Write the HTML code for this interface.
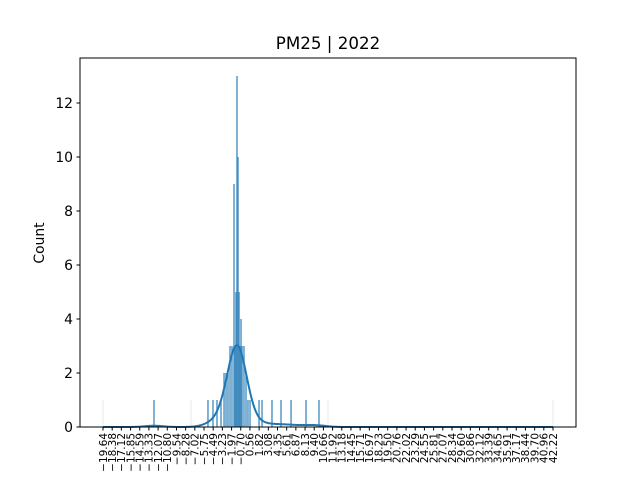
<!DOCTYPE html>
<html><head><meta charset="utf-8"><style>body{margin:0;background:#fff}svg{display:block;font-family:"DejaVu Sans","Liberation Sans",sans-serif}</style></head>
<body>
<svg id="chart" width="640" height="480"></svg>
<script>
const binCenters=[-12.63,-5.21,-4.52,-3.97,-3.42,-3.0,-2.73,-2.46,-2.18,-1.91,-1.63,-1.49,-1.36,-1.22,-1.08,-0.94,-0.81,-0.67,-0.53,-0.26,0.02,0.29,0.57,1.81,2.22,3.59,4.83,6.21,8.27,10.05];
const binCounts=[1,1,1,1,1,2,2,2,3,3,9,3,5,13,10,5,3,4,3,3,2,1,1,1,1,1,1,1,1,1];
const faintBins=[-19.64,-7.54,11.29,42.22];
const tickLabels=["−19.64","−18.38","−17.12","−15.85","−14.59","−13.33","−12.07","−10.80","−9.54","−8.28","−7.02","−5.75","−4.49","−3.23","−1.97","−0.70","0.56","1.82","3.08","4.35","5.61","6.87","8.13","9.40","10.66","11.92","13.18","14.45","15.71","16.97","18.23","19.50","20.76","22.02","23.29","24.55","25.81","27.07","28.34","29.60","30.86","32.12","33.39","34.65","35.91","37.17","38.44","39.70","40.96","42.22"];
const yTicks=[0,2,4,6,8,10,12];
const svg=document.getElementById('chart');
const NS='http://www.w3.org/2000/svg';
const L=80,R=576,T=58,B=427;
const X0=-19.64,X1=42.22,PX0=103,PX1=553;
const xs=v=>PX0+(v-X0)*(PX1-PX0)/(X1-X0);
const ys=v=>B-v*27.0;
function mk(t,a,p){const e=document.createElementNS(NS,t);for(const k in a)e.setAttribute(k,a[k]);(p||svg).appendChild(e);return e;}
faintBins.forEach(v=>{
 const r=mk('rect',{x:xs(v)-0.6,y:ys(1),width:1.2,height:ys(0)-ys(1),fill:'#ececec'});
 
 
});
binCenters.forEach((v,i)=>{
 const r=mk('rect',{x:xs(v)-0.75,y:ys(binCounts[i]),width:1.5,height:ys(0)-ys(binCounts[i]),fill:'rgba(31,119,180,0.75)'});
 
 
});
const bw=1.2,binw=0.14;
let d='';
for(let px=PX0;px<=PX1;px+=1){
 const x=X0+(px-PX0)*(X1-X0)/(PX1-PX0);
 let s=0;binCenters.forEach((v,i)=>{s+=binCounts[i]*binw*Math.exp(-0.5*((x-v)/bw)**2)/(bw*Math.sqrt(2*Math.PI));});
 d+=(d?'L':'M')+px+','+ys(s).toFixed(2);
}
const kde=mk('path',{d:d,fill:'none',stroke:'#1f77b4','stroke-width':2});


const frame=mk('rect',{x:L,y:T,width:R-L,height:B-T,fill:'none',stroke:'#000','stroke-width':1});


yTicks.forEach(v=>{
 mk('line',{x1:L-3.5,x2:L,y1:ys(v),y2:ys(v),stroke:'#000'});
 const t=mk('text',{x:L-7,y:ys(v)+5,'text-anchor':'end','font-size':13.9});
 t.textContent=v;
 
 
});
tickLabels.forEach((lab,i)=>{
 const px=PX0+i*(PX1-PX0)/(tickLabels.length-1);
 mk('line',{x1:px,x2:px,y1:B,y2:B+3.5,stroke:'#000'});
 const t=mk('text',{x:0,y:0,'text-anchor':'end','font-size':10.5,transform:`translate(${px+3.8},${B+6}) rotate(-90)`});
 t.textContent=lab;
 
 
});
const title=mk('text',{x:328,y:49,'text-anchor':'middle','font-size':16.7});
title.textContent='PM25 | 2022';


const yl=mk('text',{x:0,y:0,'text-anchor':'middle','font-size':13.9,transform:'translate(44,243) rotate(-90)'});
yl.textContent='Count';


</script>
</body></html>
